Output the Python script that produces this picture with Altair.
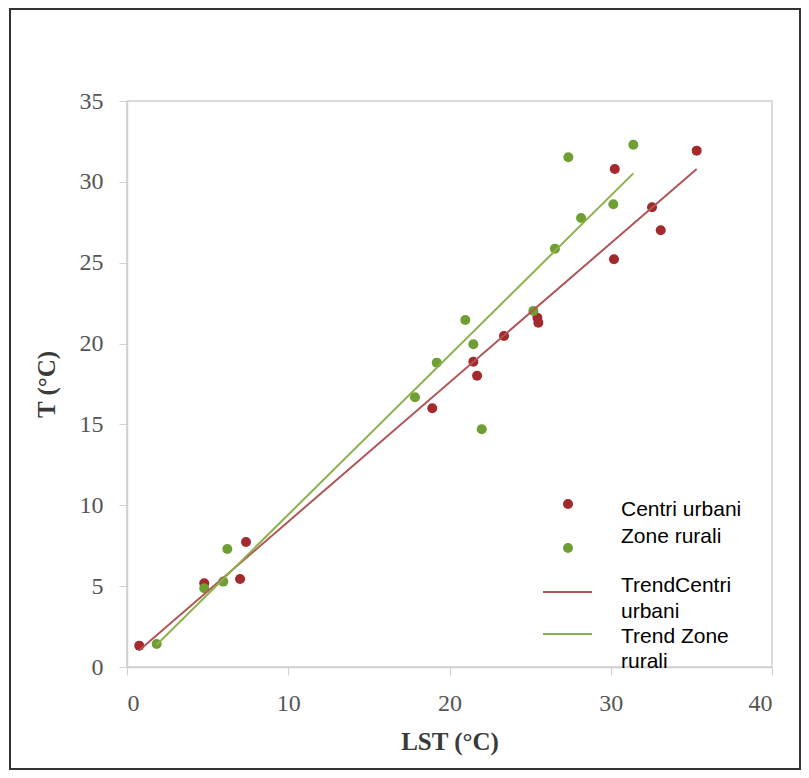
import altair as alt
import pandas as pd

# --- data ---
urban_lst = [0.76, 4.79, 7.01, 7.38, 18.93, 21.48, 21.71, 23.38, 25.45, 25.51, 30.20, 30.25, 32.56, 33.10, 35.33]
urban_t = [1.32, 5.18, 5.44, 7.73, 16.00, 18.88, 18.01, 20.47, 21.60, 21.29, 25.21, 30.80, 28.43, 27.01, 31.93]
rural_lst = [1.84, 4.79, 5.97, 6.22, 17.86, 19.21, 20.98, 21.48, 22.00, 25.20, 26.54, 27.37, 28.16, 30.16, 31.40]
rural_t = [1.42, 4.87, 5.28, 7.30, 16.68, 18.82, 21.46, 19.96, 14.70, 22.02, 25.87, 31.52, 27.77, 28.61, 32.30]
series_names = ["Centri urbani", "Zone rurali"]
x_ticks = [0, 10, 20, 30, 40]
y_ticks = [0, 5, 10, 15, 20, 25, 30, 35]

rows = []
for xv, yv in zip(urban_lst, urban_t):
    rows.append({"LST": xv, "T": yv, "serie": series_names[0]})
for xv, yv in zip(rural_lst, rural_t):
    rows.append({"LST": xv, "T": yv, "serie": series_names[1]})
df = pd.DataFrame(rows)

W, H = 645, 566
point_colors = ["#a3292d", "#6f9f33"]
line_colors = ["#b05555", "#8db04e"]
SERIF = "Liberation Serif"
SANS = "Liberation Sans"

x_enc = alt.X("LST:Q", scale=alt.Scale(domain=[0, 40], nice=False),
              axis=alt.Axis(values=x_ticks, title="LST (°C)", grid=False,
                            tickSize=8, labelPadding=16, titlePadding=14))
y_enc = alt.Y("T:Q", scale=alt.Scale(domain=[0, 35], nice=False),
              axis=alt.Axis(values=y_ticks, title="T (°C)", grid=False,
                            tickSize=8, labelPadding=16, titlePadding=20))

base = alt.Chart(df)

points = base.mark_circle(size=100, opacity=1).encode(
    x=x_enc, y=y_enc,
    color=alt.Color("serie:N", scale=alt.Scale(domain=series_names, range=point_colors), legend=None),
)

trend = base.transform_regression("LST", "T", groupby=["serie"]).mark_line(strokeWidth=2).encode(
    x="LST:Q", y="T:Q",
    stroke=alt.Stroke("serie:N", scale=alt.Scale(domain=series_names, range=line_colors), legend=None),
)

one = alt.Data(values=[{}])

def txt(s, x, y):
    return alt.Chart(one).mark_text(text=s, font=SANS, fontSize=21, align="left",
                                    baseline="middle", color="#000000").encode(
        x=alt.value(x), y=alt.value(y))

def dot(c, x, y):
    return alt.Chart(one).mark_circle(size=100, opacity=1, color=c).encode(
        x=alt.value(x), y=alt.value(y))

def seg(c, x1, x2, y):
    return alt.Chart(one).mark_rule(color=c, strokeWidth=2).encode(
        x=alt.value(x1), x2=alt.value(x2), y=alt.value(y))

legend = [
    dot(point_colors[0], 441, 403),
    dot(point_colors[1], 441, 447),
    txt("Centri urbani", 494, 409),
    txt("Zone rurali", 494, 436),
    seg(line_colors[0], 416, 465, 491),
    txt("TrendCentri", 494, 485),
    txt("urbani", 494, 511),
    seg(line_colors[1], 416, 465, 533),
    txt("Trend Zone", 494, 536),
    txt("rurali", 494, 561),
]

frame = alt.Chart(one).mark_rect(filled=False, stroke="#333333", strokeWidth=2).encode(
    x=alt.value(-117), x2=alt.value(673), y=alt.value(-92), y2=alt.value(668))

chart = alt.layer(points, trend, *legend, frame).properties(
    width=W, height=H,
    autosize=alt.AutoSizeParams(type="none"),
    padding={"left": 119, "top": 93, "right": 29, "bottom": 103},
).configure_view(stroke="#d0d0d0", strokeWidth=1.5).configure_axis(
    domainColor="#d0d0d0", tickColor="#d0d0d0", domainWidth=1.5,
    labelFont=SERIF, labelFontSize=24, labelColor="#555555",
    titleFont=SERIF, titleFontSize=25, titleFontWeight="bold", titleColor="#3a3a3a",
)

chart.save("out.html", embed_options={"renderer": "svg", "actions": False})
